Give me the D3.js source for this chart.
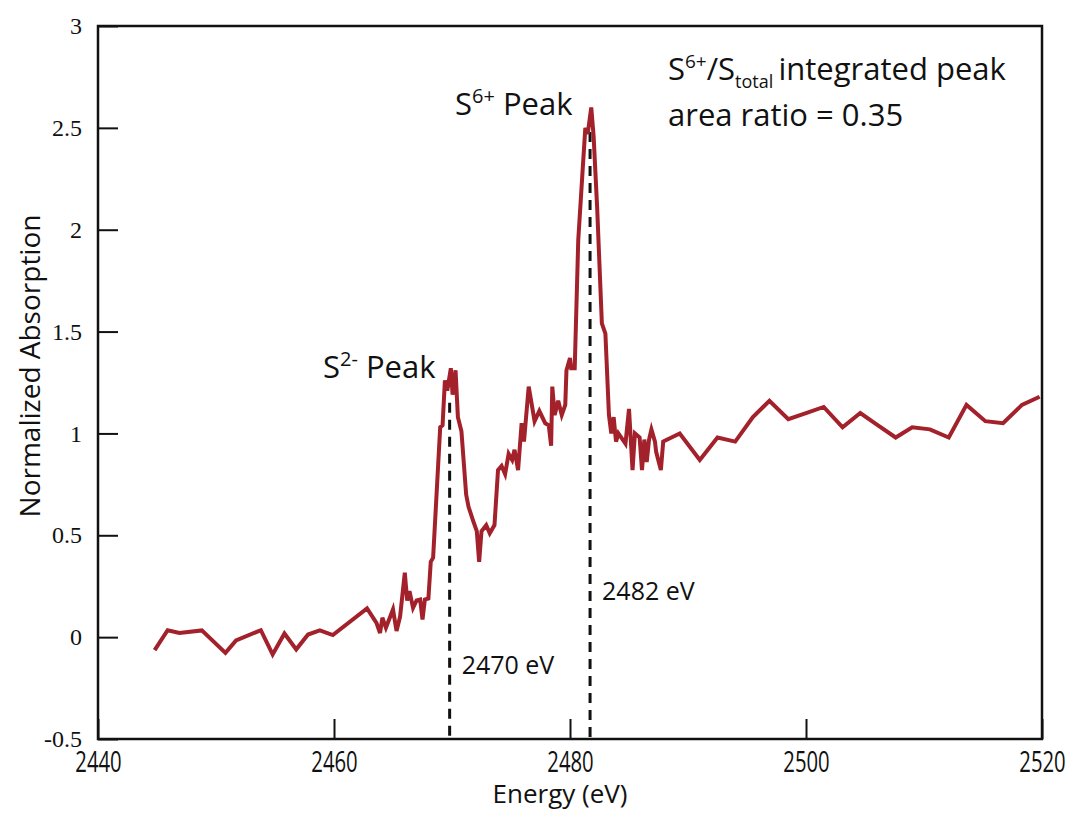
<!DOCTYPE html>
<html>
<head>
<meta charset="utf-8">
<script src="https://cdn.jsdelivr.net/npm/d3@7"></script>
<style>
  body { margin: 0; background: #fff; }
  svg { display: block; }
  .tick text { fill: #111; }
</style>
</head>
<body>
<div id="chart"></div>
<script>
// spectrum values
var energy = [
  2444.8, 2445.9, 2446.9, 2448.8, 2450.8, 2451.7, 2453.8, 2454.8, 2455.8, 2456.8,
  2457.8, 2458.8, 2459.9, 2462.8, 2463.6, 2463.9, 2464.1, 2464.4, 2465.0, 2465.3,
  2465.6, 2466.0, 2466.2, 2466.4, 2466.7, 2467.0, 2467.3, 2467.5, 2467.7, 2468.0,
  2468.2, 2468.4, 2469.0, 2469.2, 2469.4, 2469.6, 2469.9, 2470.05, 2470.3, 2470.5,
  2470.8, 2471.2, 2471.4, 2471.8, 2472.1, 2472.3, 2472.5, 2472.9, 2473.2, 2473.6,
  2473.9, 2474.2, 2474.5, 2474.8, 2475.1, 2475.3, 2475.6, 2475.9, 2476.1, 2476.5,
  2477.0, 2477.4, 2477.9, 2478.2, 2478.4, 2478.5, 2478.7, 2479.0, 2479.3, 2479.6,
  2479.7, 2480.0, 2480.1, 2480.4, 2480.7, 2481.1, 2481.3, 2481.5, 2481.8, 2482.0,
  2482.3, 2482.7, 2483.0, 2483.3, 2483.5, 2483.7, 2483.9, 2484.1, 2484.7, 2485.0,
  2485.3, 2485.5, 2485.9, 2486.1, 2486.3, 2486.5, 2486.7, 2486.9, 2487.2, 2487.3,
  2487.7, 2487.9, 2489.3, 2491.0, 2492.5, 2494.0, 2495.5, 2496.9, 2498.5, 2500.0,
  2501.5, 2503.1, 2504.6, 2506.1, 2507.6, 2509.0, 2510.5, 2512.1, 2513.6, 2515.2,
  2516.7, 2518.3, 2519.8
];
var absorption = [
  -0.064, 0.034, 0.020, 0.033, -0.077, -0.016, 0.034, -0.085, 0.018, -0.060,
  0.013, 0.033, 0.010, 0.141, 0.070, 0.020, 0.095, 0.046, 0.136, 0.030,
  0.100, 0.316, 0.180, 0.226, 0.144, 0.180, 0.185, 0.087, 0.185, 0.190,
  0.370, 0.390, 1.030, 1.040, 1.260, 1.210, 1.320, 1.190, 1.310, 1.080,
  1.010, 0.700, 0.640, 0.570, 0.520, 0.370, 0.520, 0.550, 0.510, 0.550,
  0.820, 0.840, 0.800, 0.900, 0.870, 0.920, 0.820, 1.050, 0.960, 1.230,
  1.060, 1.110, 1.050, 1.040, 0.940, 1.230, 1.090, 1.160, 1.090, 1.140,
  1.310, 1.370, 1.320, 1.320, 1.950, 2.320, 2.500, 2.470, 2.600, 2.460,
  2.110, 1.540, 1.490, 1.090, 1.000, 1.080, 0.960, 1.000, 0.950, 1.120,
  0.820, 1.000, 0.980, 0.820, 0.970, 0.860, 0.970, 1.020, 0.960, 0.910,
  0.820, 0.960, 1.000, 0.870, 0.980, 0.960, 1.080, 1.160, 1.070, 1.100,
  1.130, 1.030, 1.100, 1.040, 0.980, 1.030, 1.020, 0.980, 1.140, 1.060,
  1.050, 1.140, 1.180
];

var xTicks = [2440, 2460, 2480, 2500, 2520];
var yTicks = [-0.5, 0, 0.5, 1, 1.5, 2, 2.5, 3];

// peak markers: energy of dashed line, top of the line, label
var markerEnergy = [2469.8, 2481.7];
var markerTop = [1.15, 2.48];
var markerLabel = ["2470 eV", "2482 eV"];
var markerLabelY = [-0.18, 0.18];

var data = energy.map(function (e, i) { return {e: e, a: absorption[i]}; });

var width = 1073, height = 813;
var margin = {top: 26, right: 31, bottom: 74, left: 98};

var svg = d3.select("#chart").append("svg")
    .attr("width", width)
    .attr("height", height);

var x = d3.scaleLinear()
    .domain([2440, 2520])
    .range([margin.left, width - margin.right]);

var y = d3.scaleLinear()
    .domain([-0.5, 3])
    .range([height - margin.bottom, margin.top]);

var sans = "'Open Sans', 'Noto Sans', sans-serif";

// axes, ticks pointing inward
var xAxis = d3.axisBottom(x)
    .tickValues(xTicks)
    .tickSize(-20)
    .tickFormat(d3.format("d"));

var yAxis = d3.axisLeft(y)
    .tickValues(yTicks)
    .tickSize(-20)
    .tickPadding(16)
    .tickFormat(function (d) { return d; });

var gX = svg.append("g")
    .attr("transform", "translate(0," + (height - margin.bottom) + ")")
    .call(xAxis);
gX.select(".domain").remove();
gX.selectAll(".tick line").attr("stroke", "#111").attr("stroke-width", 2);
// condensed look for the energy labels
gX.selectAll(".tick text")
    .attr("x", 0)
    .attr("y", 33)
    .attr("dy", 0)
    .attr("transform", "scale(0.7,1)")
    .style("font-family", sans)
    .style("font-size", "29px");

var gY = svg.append("g")
    .attr("transform", "translate(" + margin.left + ",0)")
    .call(yAxis);
gY.select(".domain").remove();
gY.selectAll(".tick line").attr("stroke", "#111").attr("stroke-width", 2);
gY.selectAll(".tick text")
    .style("font-family", "'Liberation Serif', 'DejaVu Serif', serif")
    .style("font-size", "24px");

// frame
svg.append("rect")
    .attr("x", margin.left)
    .attr("y", margin.top)
    .attr("width", width - margin.left - margin.right)
    .attr("height", height - margin.top - margin.bottom)
    .attr("fill", "none")
    .attr("stroke", "#111")
    .attr("stroke-width", 2.5);

// dashed peak markers
svg.append("g").selectAll("line")
    .data(markerEnergy)
    .enter().append("line")
    .attr("x1", function (d) { return x(d); })
    .attr("x2", function (d) { return x(d); })
    .attr("y1", function (d, i) { return y(markerTop[i]); })
    .attr("y2", y(-0.5))
    .attr("stroke", "#111")
    .attr("stroke-width", 3)
    .attr("stroke-dasharray", "10,7");

svg.append("g").selectAll("text")
    .data(markerEnergy)
    .enter().append("text")
    .attr("x", function (d) { return x(d) + 12; })
    .attr("y", function (d, i) { return y(markerLabelY[i]); })
    .style("font-family", sans)
    .style("font-size", "25px")
    .attr("fill", "#111")
    .text(function (d, i) { return markerLabel[i]; });

// spectrum
var line = d3.line()
    .x(function (d) { return x(d.e); })
    .y(function (d) { return y(d.a); });

svg.append("path")
    .datum(data)
    .attr("d", line)
    .attr("fill", "none")
    .attr("stroke", "#a3212b")
    .attr("stroke-width", 4)
    .attr("stroke-linejoin", "miter");

// axis titles
svg.append("text")
    .attr("x", 560)
    .attr("y", 803)
    .attr("text-anchor", "middle")
    .style("font-family", sans)
    .style("font-size", "26px")
    .attr("fill", "#111")
    .text("Energy (eV)");

svg.append("text")
    .attr("transform", "translate(40," + 366 + ") rotate(-90)")
    .attr("text-anchor", "middle")
    .style("font-family", sans)
    .style("font-size", "28px")
    .attr("fill", "#111")
    .text("Normalized Absorption");

// peak labels with superscripts
function peakLabel(px, py, sup) {
  var t = svg.append("text")
      .attr("x", px)
      .attr("y", py)
      .style("font-family", sans)
      .style("font-size", "31px")
      .attr("fill", "#111");
  t.append("tspan").text("S");
  t.append("tspan").attr("dy", -12).style("font-size", "20px").text(sup);
  t.append("tspan").attr("dy", 12).text(" Peak");
  return t;
}
peakLabel(323, 378, "2-");
peakLabel(455, 115, "6+");

// ratio note
var note = svg.append("text")
    .attr("x", 668)
    .attr("y", 80)
    .style("font-family", sans)
    .style("font-size", "31px")
    .attr("fill", "#111");
note.append("tspan").text("S");
note.append("tspan").attr("dy", -12).style("font-size", "19px").text("6+");
note.append("tspan").attr("dy", 12).text("/S");
note.append("tspan").attr("dy", 8).style("font-size", "18px").text("total");
note.append("tspan").attr("dy", -8).text("\u2009integrated peak");

svg.append("text")
    .attr("x", 668)
    .attr("y", 126)
    .style("font-family", sans)
    .style("font-size", "31px")
    .attr("fill", "#111")
    .text("area ratio = 0.35");
</script>
</body>
</html>
